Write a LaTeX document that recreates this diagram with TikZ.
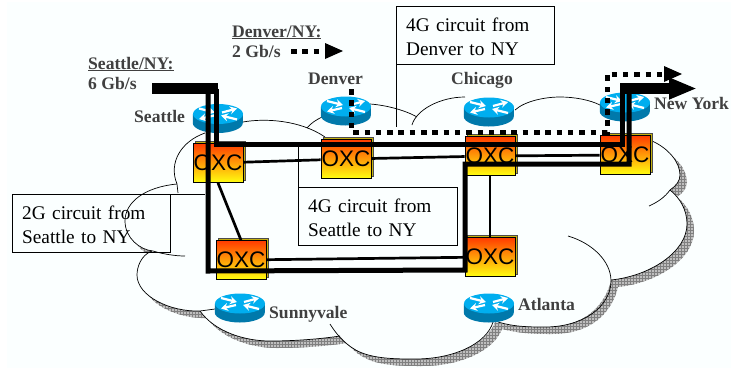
\documentclass[tikz,border=0pt]{standalone}
\usepackage{fontspec}
\setmainfont{Liberation Serif}
\newfontfamily\oxcfont{Liberation Sans}
\usepackage{tikz}
\usetikzlibrary{arrows.meta}
\usetikzlibrary{patterns}
\usetikzlibrary{shadows}

\definecolor{pagebg}{HTML}{FBFFFF}
\definecolor{labelgray}{HTML}{404040}
\definecolor{routertop}{HTML}{00AEEF}
\definecolor{routerside}{HTML}{0079AB}
\definecolor{oxcred}{HTML}{FF3C00}
\definecolor{oxcyellow}{HTML}{FFFF10}
\definecolor{oxcside}{HTML}{C4B010}

% outline of the whole cloud, used for the shadow
\newcommand{\cloudoutline}{(205,133) .. controls (182,141) and (168,162) .. (177,184)
	.. controls (145,187) and (125,202) .. (125,221)
	.. controls (125,238) and (140,250) .. (152,251)
	.. controls (141,255) and (137,267) .. (137,275)
	.. controls (137,296) and (170,312) .. (200,311)
	.. controls (215,332) and (245,341) .. (270,341)
	.. controls (295,341) and (320,339) .. (340,336)
	.. controls (350,348) and (358,351) .. (365,354)
	.. controls (380,359) and (400,359) .. (415,359)
	.. controls (455,359) and (487,343) .. (495,322)
	.. controls (515,327) and (530,327) .. (545,327)
	.. controls (585,327) and (605,305) .. (611,280)
	.. controls (650,276) and (687,252) .. (687,224)
	.. controls (687,210) and (680,198) .. (670,190)
	.. controls (676,186) and (680,181) .. (680,175)
	.. controls (680,162) and (668,148) .. (652,141)
	-- (600,105) -- (515,110) -- (465,97) -- (412,125) -- (370,104) -- (322,117) -- (243,122) -- cycle}

% router: blue disc with four white arrows
\newcommand{\router}[2]{
	\node[routernode] (#1) at (#2) {};
	\fill[routerside] (#1.west) ++(0,-4.5) -- ++(0,9) arc[start angle=180, end angle=360, x radius=25, y radius=-10] -- ++(0,-9) -- cycle;
	\fill[routertop] (#1.center) ++(0,-4.5) ellipse[x radius=25, y radius=10];
	\begin{scope}[shift={(#1.center)}, white, line width=2.2pt, -{Stealth[length=7pt,width=8pt]}]
		\draw (-19,-10) -- (-3,-6);
		\draw (19,1) -- (3,-3);
		\draw (-4,-3) -- (-19,0.5);
		\draw (4,-6) -- (19,-10);
	\end{scope}
}

% two lines of box text, with the room above and below them
\newcommand{\boxtext}[2]{\rule{0pt}{25pt}#1\\#2\rule[-9pt]{0pt}{9pt}}

\begin{document}
\begin{tikzpicture}[x=1pt, y=-1pt]
	\tikzstyle{routernode} = [minimum width=50pt, minimum height=29pt, inner sep=0pt]
	\tikzstyle{oxc} = [draw, thick, minimum width=50pt, minimum height=39pt, inner sep=0pt,
		top color=oxcred, bottom color=oxcyellow, font=\oxcfont\fontsize{22.5}{24}\selectfont,
		general shadow={shadow xshift=2pt, shadow yshift=2pt, fill=oxcside, draw=black!70, thin}]
	\tikzstyle{circuitbox} = [draw, anchor=north west, inner xsep=10pt, inner ysep=0pt, align=left,
		font=\fontsize{19.3}{24}\selectfont]
	\tikzstyle{sitelabel} = [anchor=base west, inner sep=0pt, align=left, text=labelgray,
		font=\bfseries\fontsize{17.6}{20}\selectfont]
	\tikzstyle{cloudline} = [line width=0.7pt]
	\tikzstyle{fibre} = [line width=2.7pt]
	\tikzstyle{circuit} = [line width=5pt]
	\tikzstyle{dotcircuit} = [line width=5pt, dash pattern=on 5.5pt off 5.8pt]

	\useasboundingbox (0,0) rectangle (731,368);
	\fill[white] (0,0) rectangle (731,368);
	\fill[pagebg] (7,2) rectangle (731,368);

	% cloud
	\begin{scope}[shift={(7,7)}]
		\fill[gray!50] \cloudoutline;
		\fill[pattern=grid, pattern color=gray] \cloudoutline;
	\end{scope}
	\fill[pagebg] \cloudoutline;
	\begin{scope}[cloudline]
		\draw (205,133) .. controls (182,141) and (168,162) .. (177,184) -- (178,193);
		\draw (177,184) .. controls (145,187) and (125,202) .. (125,221) .. controls (125,238) and (140,250) .. (153,251) .. controls (163,254) and (175,256) .. (185,256);
		\draw (152,251) .. controls (141,255) and (137,267) .. (137,275) .. controls (137,296) and (170,312) .. (200,311) -- (215,309);
		\draw (200,311) .. controls (215,332) and (245,341) .. (270,341) .. controls (295,341) and (320,339) .. (340,336);
		\draw (330,324) .. controls (340,340) and (352,350) .. (365,354) .. controls (380,359) and (400,359) .. (415,359) .. controls (455,359) and (487,343) .. (493,322);
		\draw (498,322) .. controls (515,327) and (530,327) .. (545,327) .. controls (585,327) and (611,305) .. (611,281) .. controls (611,261) and (592,243) .. (568,236);
		\draw (611,280) .. controls (650,276) and (687,252) .. (687,224) .. controls (687,210) and (680,198) .. (670,190);
		\draw (670,190) .. controls (665,197) and (658,202) .. (649,206);
		\draw (652,141) .. controls (668,148) and (680,162) .. (680,175) .. controls (680,181) and (676,186) .. (670,190);
		\draw (515,110) .. controls (525,101) and (545,97) .. (560,97) .. controls (575,97) and (590,100) .. (600,105);
		\draw (412,125) .. controls (416,110) and (440,97) .. (465,97);
		\draw (370,104) .. controls (385,105) and (405,110) .. (417,117);
		\draw (243,122) .. controls (265,118) and (300,120) .. (325,137);
		\draw (307,128) .. controls (311,123) and (316,120) .. (322,117);
	\end{scope}

	% boxes with their leader lines
	\node[circuitbox, text width=138pt] (BD) at (396,6) {\boxtext{4G circuit from}{Denver to NY}};
	\node[circuitbox, text width=139pt] (BS) at (298,187) {\boxtext{4G circuit from}{Seattle to NY}};
	\node[circuitbox, text width=138pt] (BG) at (12,194) {\boxtext{2G circuit from}{Seattle to NY}};
	\coordinate (LD) at (396,127);
	\coordinate (LS) at (298,145);
	\coordinate (LG) at (205,194);
	\draw (BD.south west) -- (LD);
	\draw (BS.north west) -- (LS);
	\draw (BG.north east) -- (LG);

	% switches and fibres
	\path[fibre]
		node[oxc] (OS) at (218,163) {OXC}
		node[oxc] (OD) at (346,159) {OXC}
		node[oxc] (OC) at (490,156) {OXC}
		node[oxc] (ON) at (625,155) {OXC}
		node[oxc] (OV) at (241,260) {OXC}
		node[oxc] (OA) at (490,257) {OXC}

		(OS) edge (OD)
		(OD) edge (OC)
		(OC) edge (ON)
		(OV) edge (OA)
		(OS.south) edge (OV.north)
		(OC.south) edge (OA.north)
	;

	% routers
	\router{RS}{218,118.5}
	\router{RD}{346,111}
	\router{RC}{489,112}
	\router{RN}{625,107}
	\router{RV}{240,308}
	\router{RA}{489,308}

	% labels
	\node[sitelabel] (LRS) at (134,122) {Seattle};
	\node[sitelabel] (LRD) at (308,84) {Denver};
	\node[sitelabel] (LRC) at (451,84) {Chicago};
	\node[sitelabel] (LRN) at (654,109) {New York};
	\node[sitelabel] (LRV) at (269,318) {Sunnyvale};
	\node[sitelabel] (LRA) at (518,310) {Atlanta};
	\node[sitelabel] (LSN) at (88,89) {\underline{Seattle/NY:}\\6 Gb/s};
	\node[sitelabel] (LDN) at (232,57) {\underline{Denver/NY:}\\2 Gb/s};

	% circuits
	\coordinate (SA) at (152,88.5);
	\coordinate (SB) at (218,88.5);
	\coordinate (SC) at (216,88.5);
	\coordinate (SD) at (216,144);
	\coordinate (SE) at (622,144);
	\coordinate (SF) at (622,88.5);
	\coordinate (SG) at (697,88.5);
	\coordinate (TA) at (208,88.5);
	\coordinate (TB) at (208,271);
	\coordinate (TC) at (465,270);
	\coordinate (TD) at (465,164);
	\coordinate (TE) at (629,164);
	\coordinate (TF) at (629,88.5);
	\coordinate (DA) at (351,89);
	\coordinate (DB) at (351,132);
	\coordinate (DC) at (607,132);
	\coordinate (DD) at (607,74);
	\coordinate (DE) at (682,74);
	\coordinate (KA) at (291,51);
	\coordinate (KB) at (343,51);
	\draw[line width=11pt] (SA) -- (SB);
	\draw[circuit, line join=miter] (SC) -- (SD) -- (SE) -- (SF);
	\draw[circuit, line join=miter] (TA) -- (TB) -- (TC) -- (TD) -- (TE) -- (TF);
	\draw[line width=11pt, -{Triangle[length=28pt,width=20pt]}] (620,88.5) -- (SG);
	\draw[dotcircuit] (DA) -- (DB) -- (DC) -- (DD) -- (664,74);
	\fill (664,66) -- (DE) -- (664,82) -- cycle;
	\draw[dotcircuit] (KA) -- (325,51);
	\fill (325,43) -- (KB) -- (325,59) -- cycle;
\end{tikzpicture}
\end{document}
